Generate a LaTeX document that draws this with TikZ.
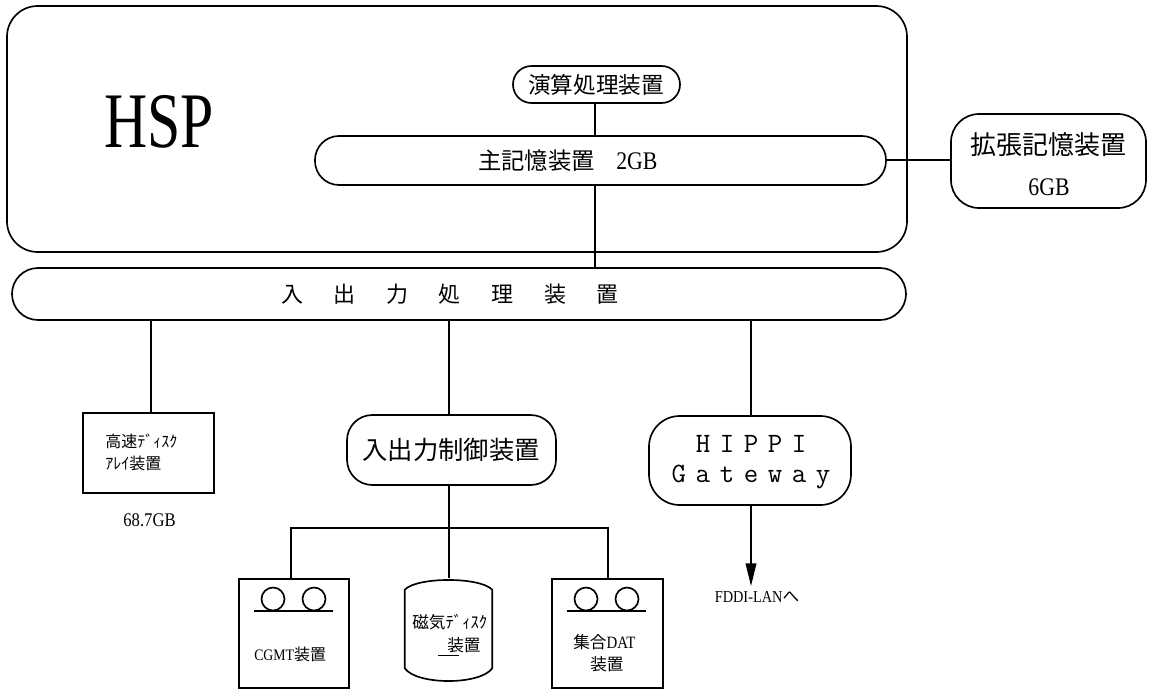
\documentclass[tikz,border=0pt]{standalone}
\usepackage{fontspec}
\usetikzlibrary{arrows.meta,calc}
\newfontfamily\jp{Noto Sans CJK JP}
\newfontfamily\latn[FakeStretch=0.86]{Liberation Serif}
\newfontfamily\hspf[FakeStretch=0.76]{Liberation Serif}
\newcommand{\fs}[1]{\fontsize{#1}{#1}\selectfont}
\tikzset{
  x=0.75pt,y=-0.75pt,
  conn/.style={line width=1.25pt,black},
  boxstyle/.style={draw=black,line width=1.25pt,inner sep=0pt,align=center},
  rbox/.style={boxstyle,rounded corners=#1},
  rbox/.default=20pt,
  label/.style={inner sep=0pt,align=center,black},
}
\newcommand{\bx}[6][rbox=20pt]{% style,name,x0,y0,x1,y1
  \node[#1,minimum width=(#5-#3)*0.75pt,minimum height=(#6-#4)*0.75pt] (#2) at ({(#3+#5)/2},{(#4+#6)/2}) {};}
\begin{document}
\begin{tikzpicture}
\useasboundingbox (0,0) rectangle (1158,689);
\fill[white] (0,0) rectangle (1158,689);
% boxes
\bx[rbox=23pt]{hsp}{7}{6}{907}{252}
\bx[rbox=13.8pt]{calc}{513}{66}{680}{103}
\bx[rbox=18pt]{main}{315}{136}{886}{185}
\bx[rbox=21pt]{ext}{951}{114}{1146}{208}
\bx[rbox=19.5pt]{io}{12}{268}{906}{320}
\bx[boxstyle]{fast}{83}{413}{214}{493}
\bx[rbox=19pt]{ioc}{347}{415}{556}{485}
\bx[rbox=23pt]{hippi}{649}{416}{851}{505}
\bx[boxstyle]{cgmt}{239}{579}{349}{688}
\bx[boxstyle]{dat}{552}{579}{663}{688}
\node[inner sep=0pt,minimum width=87*0.75pt,minimum height=104*0.75pt] (disk) at (448.5,630) {};
\draw[conn] (disk.north west)++(0,12) .. controls ($(disk.north west)+(12,-1)$) and ($(disk.north east)+(-12,-1)$) .. ($(disk.north east)+(0,12)$)
  -- ($(disk.south east)+(0,-14)$) .. controls ($(disk.south east)+(-12,3)$) and ($(disk.south west)+(12,3)$) .. ($(disk.south west)+(0,-14)$) -- cycle;
% connectors
\coordinate (a0) at (595,200);
\draw[conn] (calc.south -| a0) -- (main.north -| a0);
\draw[conn] (main.south -| a0) -- (io.north -| a0);
\coordinate (m0) at (900,160);
\draw[conn] (main.east |- m0) -- (ext.west |- m0);
\coordinate (a1) at (151,320);
\draw[conn] (a1) -- (fast.north -| a1);
\coordinate (a2) at (449,320);
\draw[conn] (a2) -- (ioc.north -| a2);
\coordinate (a3) at (751,320);
\draw[conn] (a3) -- (hippi.north -| a3);
\coordinate (b2) at (449,485);
\draw[conn] (b2) -- (disk.north -| b2);
\coordinate (tl) at (291,528);
\coordinate (tr) at (608,528);
\draw[conn] (cgmt.north -| tl) -- (tl) -- (tr) -- (dat.north -| tr);
\coordinate (fd) at (751,586);
\draw[conn,-{Triangle[length=17pt,width=8pt]}] (hippi.south -| fd) -- (fd);
% tape reels
\foreach \cx in {273,314,586,627} \draw[conn] (\cx,599) circle[radius=11.5];
\draw[conn] (254,611) -- (333,611);
\draw[conn] (567,611) -- (646,611);
\draw[line width=0.7pt] (438,655) -- (459,655);
% text
\node[label] (thsp) at (159,122) {\hspf\fs{59}HSP};
\node[label] (tcalc) at (596,85) {\jp\fs{17}演算処理装置};
\node[label,anchor=west] (tmain) at (478,161) {\jp\fs{17.5}主記憶装置\hspace{16pt}{\latn\fs{19}2GB}};
\node[label] (text1) at (1048,145) {\jp\fs{19.5}拡張記憶装置};
\node[label] (text2) at (1049,187) {\latn\fs{19}6GB};
\node[label] (tio) at (450,294) {\jp\fs{16.5}入\hspace{23pt}出\hspace{23pt}力\hspace{23pt}処\hspace{23pt}理\hspace{23pt}装\hspace{23pt}置};
\node[label,anchor=west] (tf1) at (105,441) {\jp\fs{12}高速ﾃﾞｨｽｸ};
\node[label,anchor=west] (tf2) at (105,463) {\jp\fs{12}ｱﾚｲ装置};
\node[label] (tsz) at (149.5,520) {\latn\fs{14.5}68.7GB};
\node[label] (tioc) at (451,450) {\jp\fs{19}入出力制御装置};
\node[label] (th1) at (751,444) {\ttfamily\fs{21}H\hspace{7.2pt}I\hspace{7.2pt}P\hspace{7.2pt}P\hspace{7.2pt}I};
\node[label] (th2) at (751,477) {\ttfamily\fs{21}G\hspace{7.2pt}a\hspace{7.2pt}t\hspace{7.2pt}e\hspace{7.2pt}w\hspace{7.2pt}a\hspace{7.2pt}y};
\node[label] (tfd) at (757,597) {\latn\fs{12.5}FDDI-LAN{\jp へ}};
\node[label,anchor=west] (tc) at (254,654) {\latn\fs{12}CGMT{\jp\fs{12}装置}};
\node[label,anchor=west] (td1) at (412,622) {\jp\fs{12.5}磁気ﾃﾞｨｽｸ};
\node[label,anchor=west] (td2) at (447,645) {\jp\fs{12.5}装置};
\node[label,anchor=west] (tq1) at (573,642) {\jp\fs{12.5}集合{\latn\fs{13}DAT}};
\node[label,anchor=west] (tq2) at (590,664) {\jp\fs{12.5}装置};
\end{tikzpicture}
\end{document}
